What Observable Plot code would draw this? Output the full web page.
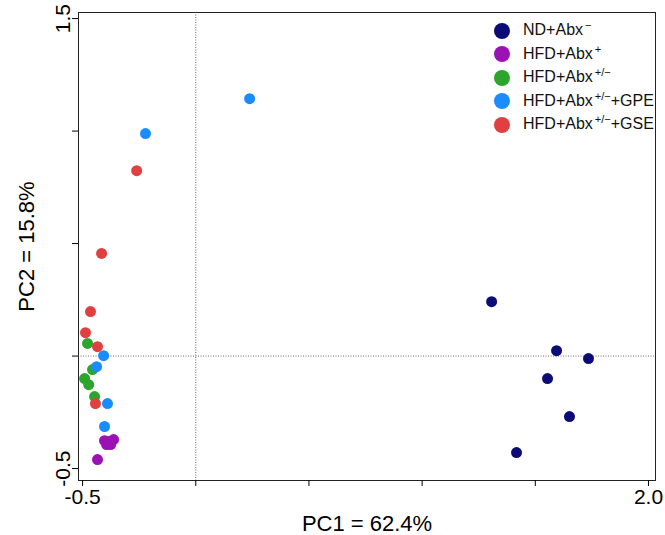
<!DOCTYPE html>
<html><head><meta charset="utf-8">
<script src="https://cdn.jsdelivr.net/npm/d3@7"></script>
<script src="https://cdn.jsdelivr.net/npm/@observablehq/plot@0.6"></script>
<style>
body{margin:0;background:#fff;font-family:"Liberation Sans",Arial,sans-serif}
#wrap{position:relative;width:665px;height:535px}
#legend{position:absolute;left:494px;top:19px;font-size:16px;color:#111;line-height:21.5px}
#legend .r{display:flex;align-items:center}
#legend .d{width:16px;height:16px;border-radius:50%;margin-right:13px}
sup{font-size:11px;position:relative;top:-6px;vertical-align:baseline;margin-left:2px}
</style></head><body>
<div id="wrap"><div id="chart"></div>
<div id="legend"></div></div>
<script>
const groups = ["ND+Abx⁻","HFD+Abx⁺","HFD+Abx⁺/⁻","HFD+Abx⁺/⁻+GPE","HFD+Abx⁺/⁻+GSE"];
const legendHtml = ["ND+Abx<sup>&minus;</sup>","HFD+Abx<sup>+</sup>","HFD+Abx<sup>+/&minus;</sup>","HFD+Abx<sup>+/&minus;</sup>+GPE","HFD+Abx<sup>+/&minus;</sup>+GSE"];
const colors = ["#0c0c78","#9a12b4","#2ca52c","#1a8cff","#e0403f"];
const ndX = [1.307,1.594,1.735,1.554,1.651,1.417];
const ndY = [0.242,0.024,-0.011,-0.100,-0.269,-0.429];
const hfdX = [-0.403,-0.385,-0.363,-0.394,-0.376,-0.434];
const hfdY = [-0.376,-0.380,-0.371,-0.393,-0.393,-0.460];
const pmX = [-0.478,-0.456,-0.491,-0.473,-0.447];
const pmY = [0.056,-0.060,-0.100,-0.127,-0.180];
const gpeX = [-0.407,-0.438,-0.390,-0.403,-0.222,0.238];
const gpeY = [0.002,-0.047,-0.211,-0.313,0.989,1.144];
const gseX = [-0.465,-0.487,-0.434,-0.443,-0.416,-0.261];
const gseY = [0.198,0.104,0.042,-0.211,0.456,0.824];
const xTicks = [-0.5,0,0.5,1,1.5,2];
const yTicks = [-0.5,0,0.5,1,1.5];
const series = [[ndX,ndY],[hfdX,hfdY],[pmX,pmY],[gpeX,gpeY],[gseX,gseY]];
const data = [];
series.forEach(([xs,ys],g)=>xs.forEach((x,i)=>data.push({x,y:ys[i],g:groups[g]})));
const chart = Plot.plot({
  width:665,height:535,marginLeft:78,marginRight:10,marginTop:12,marginBottom:55,
  style:{fontFamily:"Liberation Sans, Arial, sans-serif",fontSize:"21px"},
  x:{domain:[-0.518,2.031]},
  y:{domain:[-0.553,1.527]},
  color:{domain:groups,range:colors},
  marks:[
    Plot.frame({stroke:"#222"}),
    Plot.ruleX([0],{stroke:"#444",strokeDasharray:"1,1.5",strokeWidth:0.8}),
    Plot.ruleY([0],{stroke:"#444",strokeDasharray:"1,1.5",strokeWidth:0.8}),
    Plot.axisX({ticks:xTicks,tickSize:6,tickFormat:d=>(d===-0.5||d===2)?d.toFixed(1):"",label:null,fontSize:21}),
    Plot.axisX({ticks:[],label:"PC1 = 62.4%",labelAnchor:"center",labelArrow:"none",labelOffset:50,fontSize:22}),
    Plot.axisY({ticks:yTicks,tickSize:6,tickRotate:-90,tickFormat:d=>(d===-0.5||d===1.5)?d.toFixed(1):"",label:null,fontSize:21}),
    Plot.axisY({ticks:[],label:"PC2 = 15.8%",labelAnchor:"center",labelArrow:"none",labelOffset:60,fontSize:22}),
    Plot.dot(data,{x:"x",y:"y",fill:"g",r:5.5})
  ]
});
document.getElementById("chart").append(chart);
document.getElementById("legend").innerHTML = legendHtml.map((t,i)=>`<div class="r"><div class="d" style="background:${colors[i]}"></div><span>${t}</span></div>`).join("");
</script></body></html>
